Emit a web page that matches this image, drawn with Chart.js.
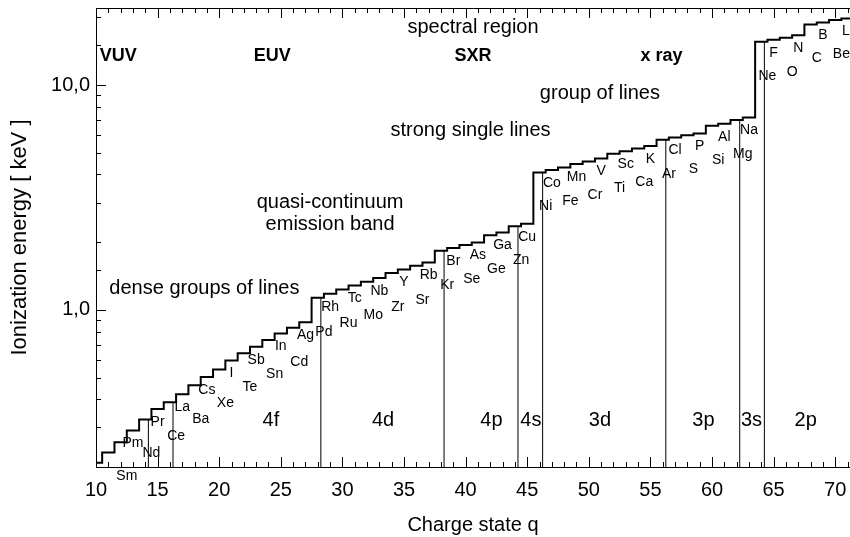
<!DOCTYPE html>
<html>
<head>
<meta charset="utf-8">
<script src="https://cdn.jsdelivr.net/npm/chart.js@4.4.1/dist/chart.umd.min.js"></script>
<style>
  html, body { margin: 0; padding: 0; background: #fff; overflow: hidden; }
  #chart { display: block; }
</style>
</head>
<body>
<canvas id="chart" width="850" height="537"></canvas>
<script>
// charge state q of the ion
const chargeStates = [
  10, 11, 12, 13, 14, 15, 16, 17, 18, 19, 20, 21, 22, 23, 24, 25, 26, 27, 28, 29,
  30, 31, 32, 33, 34, 35, 36, 37, 38, 39, 40, 41, 42, 43, 44, 45, 46, 47, 48, 49,
  50, 51, 52, 53, 54, 55, 56, 57, 58, 59, 60, 61, 62, 63, 64, 65, 66, 67, 68, 69,
  70, 71
];
// ionization energy [keV] for each charge state
const ionizationEnergy = [
  0.209, 0.232, 0.258, 0.291, 0.325, 0.362, 0.388, 0.421, 0.462, 0.503,
  0.543, 0.595, 0.641, 0.686, 0.734, 0.784, 0.833, 0.881, 1.132, 1.180,
  1.230, 1.283, 1.335, 1.387, 1.460, 1.512, 1.569, 1.622, 1.830, 1.883,
  1.941, 1.995, 2.149, 2.210, 2.355, 2.414, 4.08, 4.19, 4.30, 4.45,
  4.57, 4.71, 4.94, 5.07, 5.22, 5.36, 5.71, 5.84, 5.97, 6.09,
  6.59, 6.72, 6.99, 7.16, 15.57, 15.91, 16.22, 16.63, 18.60, 18.98,
  19.44, 19.78
];
// isoelectronic sequence of each labelled charge state
const sequenceQ = [
  12, 13, 14, 15, 16, 17, 18, 19, 20, 21, 22, 23, 24, 25, 26, 27, 28, 29, 30, 31,
  32, 33, 34, 35, 36, 37, 38, 39, 40, 41, 42, 43, 44, 45, 46, 47, 48, 49, 50, 51,
  52, 53, 54, 55, 56, 57, 58, 59, 60, 61, 62, 63, 64, 65, 66, 67, 68, 69, 70, 71
];
const sequenceNames = [
  'Sm', 'Pm', 'Nd', 'Pr', 'Ce', 'La', 'Ba', 'Cs', 'Xe', 'I', 'Te', 'Sb', 'Sn', 'In',
  'Cd', 'Ag', 'Pd', 'Rh', 'Ru', 'Tc', 'Mo', 'Nb', 'Zr', 'Y', 'Sr', 'Rb', 'Kr', 'Br',
  'Se', 'As', 'Ge', 'Ga', 'Zn', 'Cu', 'Ni', 'Co', 'Fe', 'Mn', 'Cr', 'V', 'Ti', 'Sc',
  'Ca', 'K', 'Ar', 'Cl', 'S', 'P', 'Si', 'Al', 'Mg', 'Na', 'Ne', 'F', 'O', 'N', 'C',
  'B', 'Be', 'Li'
];
// closed (sub)shell ions marked with a vertical line
const shellEdges = [14, 16, 28, 38, 44, 46, 56, 62, 64];
// open shell names and where they sit along q
const shellNames = ['4f', '4d', '4p', '4s', '3d', '3p', '3s', '2p'];
const shellLabelQ = [24.2, 33.3, 42.1, 45.3, 50.9, 59.3, 63.2, 67.6];

const yMin = 0.2, yMax = 22;
const FONT = '"Liberation Sans", Arial, Helvetica, sans-serif';

const energyOf = q => ionizationEnergy[chargeStates.indexOf(q)];

// level of each ion spans q-0.5 .. q+0.5
const stepData = chargeStates.map((q, i) => ({ x: q - 0.5, y: ionizationEnergy[i] }));
stepData.push({ x: chargeStates[chargeStates.length - 1] + 0.5, y: ionizationEnergy[ionizationEnergy.length - 1] });

const edgeSets = shellEdges.map(q => ({
  data: [{ x: q + 0.25, y: yMin }, { x: q + 0.25, y: energyOf(q) }],
  borderColor: '#000',
  borderWidth: 1,
  pointRadius: 0
}));

const notes = [
  { text: 'spectral region', q: 40.6, e: 18.1 },
  { text: 'VUV', q: 11.8, e: 13.4, bold: true },
  { text: 'EUV', q: 24.3, e: 13.4, bold: true },
  { text: 'SXR', q: 40.6, e: 13.4, bold: true },
  { text: 'x ray', q: 55.9, e: 13.4, bold: true },
  { text: 'group of lines', q: 50.9, e: 9.2 },
  { text: 'strong single lines', q: 40.4, e: 6.3 },
  { text: 'quasi-continuum', q: 29.0, e: 3.0 },
  { text: 'emission band', q: 29.0, e: 2.39 },
  { text: 'dense groups of lines', q: 18.8, e: 1.24 }
];

const decorations = {
  id: 'decorations',
  afterDraw(chart) {
    const { ctx, chartArea: a, scales: { x, y } } = chart;
    ctx.save();
    ctx.strokeStyle = '#000';
    ctx.lineWidth = 1;
    ctx.beginPath();
    ctx.moveTo(a.right + 2, a.top + 0.5);
    ctx.lineTo(a.left + 0.5, a.top + 0.5);
    ctx.lineTo(a.left + 0.5, a.bottom + 0.5);
    ctx.lineTo(a.right + 2, a.bottom + 0.5);
    x.ticks.forEach(t => {
      const px = Math.round(x.getPixelForValue(t.value)) + 0.5;
      const len = t.value % 5 === 0 ? 10 : 5;
      ctx.moveTo(px, a.bottom); ctx.lineTo(px, a.bottom - len);
      ctx.moveTo(px, a.top); ctx.lineTo(px, a.top + len);
    });
    y.ticks.forEach(t => {
      const py = Math.round(y.getPixelForValue(t.value)) + 0.5;
      const len = t.label ? 10 : 5;
      ctx.moveTo(a.left, py); ctx.lineTo(a.left + len, py);
    });
    ctx.stroke();

    ctx.fillStyle = '#000';
    ctx.textAlign = 'center';
    ctx.textBaseline = 'middle';
    notes.forEach(n => {
      ctx.font = (n.bold ? 'bold 18px ' : '20px ') + FONT;
      ctx.fillText(n.text, x.getPixelForValue(n.q), y.getPixelForValue(n.e));
    });

    ctx.font = '20px ' + FONT;
    shellNames.forEach((s, i) => {
      ctx.fillText(s, x.getPixelForValue(shellLabelQ[i]), y.getPixelForValue(0.322));
    });

    ctx.font = '14px ' + FONT;
    sequenceNames.forEach((s, i) => {
      const q = sequenceQ[i];
      const upper = q % 2 === 1;
      const px = x.getPixelForValue(upper ? q : q + 0.5);
      const py = y.getPixelForValue(energyOf(q)) + (upper ? 13 : 34);
      ctx.fillText(s, px, py);
    });
    ctx.restore();
  }
};

new Chart(document.getElementById('chart'), {
  type: 'line',
  data: {
    datasets: [
      {
        data: stepData,
        stepped: 'before',
        borderColor: '#000',
        borderWidth: 2,
        pointRadius: 0
      },
      ...edgeSets
    ]
  },
  options: {
    responsive: false,
    animation: false,
    devicePixelRatio: 1,
    layout: { padding: { top: 8, right: 0, left: 0, bottom: 0 } },
    plugins: { legend: { display: false }, tooltip: { enabled: false } },
    scales: {
      x: {
        type: 'linear',
        min: 10,
        max: 71.2,
        afterFit(s) { s.height = 70; s.paddingLeft = 0; s.paddingRight = 0; },
        grid: { display: false, drawTicks: false },
        border: { display: false },
        ticks: {
          stepSize: 1,
          autoSkip: false,
          maxRotation: 0,
          includeBounds: false,
          padding: 11,
          color: '#000',
          font: { family: FONT, size: 20 },
          callback: v => (v % 5 === 0 ? String(v) : '')
        },
        title: {
          display: true,
          text: 'Charge state q',
          color: '#000',
          font: { family: FONT, size: 20 },
          padding: { top: 0, bottom: 0 }
        }
      },
      y: {
        type: 'logarithmic',
        min: yMin,
        max: yMax,
        afterFit(s) { s.width = 96; s.paddingTop = 0; s.paddingBottom = 0; },
        grid: { display: false, drawTicks: false },
        border: { display: false },
        ticks: {
          autoSkip: false,
          includeBounds: false,
          padding: 6,
          color: '#000',
          font: { family: FONT, size: 20 },
          callback: v => (v === 10 ? '10,0' : v === 1 ? '1,0' : '')
        },
        title: {
          display: true,
          text: 'Ionization energy [ keV ]',
          color: '#000',
          font: { family: FONT, size: 22 },
          padding: { top: 7, bottom: 0 }
        }
      }
    }
  },
  plugins: [decorations]
});
</script>
</body>
</html>
